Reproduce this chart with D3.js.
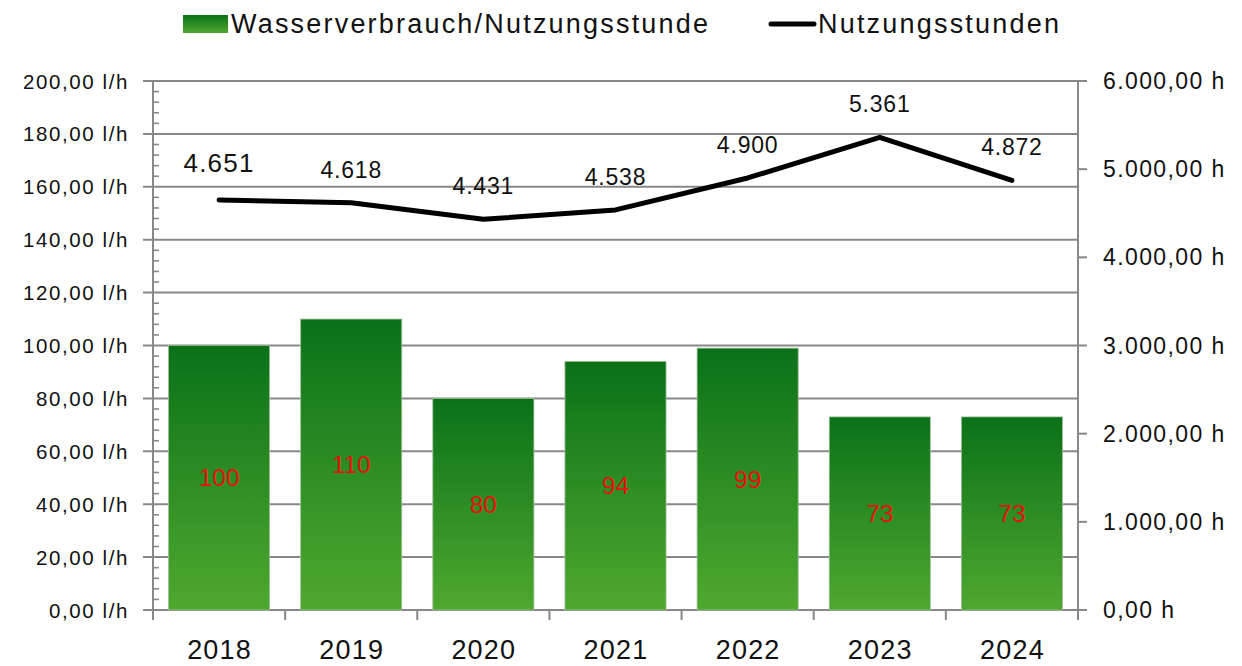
<!DOCTYPE html>
<html lang="de">
<head>
  <meta charset="UTF-8">
  <title>Wasserverbrauch je Nutzungsstunde</title>
  <style>
    body { margin: 0; background: #fff; overflow: hidden; }
    text { font-family: "Liberation Sans", Arial, sans-serif; fill: #111; }
  </style>
</head>
<body>
  <script src="https://d3js.org/d3.v7.min.js"></script>
  <script>
    // Daten
    const years = ["2018", "2019", "2020", "2021", "2022", "2023", "2024"];
    const waterPerHour = [100, 110, 80, 94, 99, 73, 73];
    const usageHours = [4651, 4618, 4431, 4538, 4900, 5361, 4872];
    const leftTicks = [0, 20, 40, 60, 80, 100, 120, 140, 160, 180, 200];
    const rightTicks = [0, 1000, 2000, 3000, 4000, 5000, 6000];

    const width = 1242, height = 666;
    const m = { left: 153, right: 1078, top: 81, bottom: 610 };

    const svg = d3.select("body").append("svg").attr("width", width).attr("height", height);

    const x = d3.scaleBand().domain(years).range([m.left, m.right]).paddingInner(0.235).paddingOuter(0.1175);
    const xEdge = d3.scaleLinear().domain([0, years.length]).range([m.left, m.right]);
    const yL = d3.scaleLinear().domain([0, 200]).range([m.bottom, m.top]);
    const yR = d3.scaleLinear().domain([0, 6000]).range([m.bottom, m.top]);

    const de = n => n.toFixed(2).replace(".", ",").replace(/\B(?=(\d{3})+(?!\d))/g, ".");
    const deInt = n => String(n).replace(/\B(?=(\d{3})+(?!\d))/g, ".");

    const defs = svg.append("defs");
    ["barGrad", "legGrad"].forEach(id => {
      const g = defs.append("linearGradient").attr("id", id)
        .attr("x1", 0).attr("y1", 0).attr("x2", 0).attr("y2", 1);
      g.append("stop").attr("offset", "0%").attr("stop-color", "#0b7119");
      g.append("stop").attr("offset", "100%").attr("stop-color", "#4fa82f");
    });

    // Gitterlinien
    svg.append("g").selectAll("line").data(leftTicks).join("line")
      .attr("x1", m.left - 10).attr("x2", m.right)
      .attr("y1", d => yL(d)).attr("y2", d => yL(d))
      .attr("stroke", "#888").attr("stroke-width", 2);

    // Balken
    svg.append("g").selectAll("rect").data(waterPerHour).join("rect")
      .attr("x", (d, i) => x(years[i]))
      .attr("y", d => yL(d))
      .attr("width", x.bandwidth())
      .attr("height", d => yL(0) - yL(d))
      .attr("fill", "url(#barGrad)")
      .attr("stroke", "#9dbf98").attr("stroke-width", 0.8);

    svg.append("g").selectAll("text").data(waterPerHour).join("text")
      .attr("x", (d, i) => x(years[i]) + x.bandwidth() / 2)
      .attr("y", d => (yL(0) + yL(d)) / 2)
      .attr("text-anchor", "middle").attr("dominant-baseline", "central")
      .attr("font-size", 24.5).style("fill", "#e8120c")
      .text(d => d);

    // Linke Achse
    const axisCol = "#888";
    svg.append("line").attr("x1", m.left).attr("x2", m.left).attr("y1", m.top).attr("y2", m.bottom + 10)
      .attr("stroke", axisCol).attr("stroke-width", 2);
    const minor = d3.range(0, 200, 4).filter(v => v % 20 !== 0);
    svg.append("g").selectAll("line").data(minor).join("line")
      .attr("x1", m.left).attr("x2", m.left + 6)
      .attr("y1", d => yL(d)).attr("y2", d => yL(d))
      .attr("stroke", axisCol).attr("stroke-width", 1.6);
    svg.append("g").selectAll("text").data(leftTicks).join("text")
      .attr("x", 129).attr("y", d => yL(d))
      .attr("text-anchor", "end").attr("dominant-baseline", "central")
      .attr("font-family", "'DejaVu Sans', sans-serif")
      .attr("font-size", 20.5).attr("letter-spacing", 1.6)
      .text(d => de(d) + " l/h");

    // Rechte Achse
    svg.append("line").attr("x1", m.right).attr("x2", m.right).attr("y1", m.top).attr("y2", m.bottom + 10)
      .attr("stroke", axisCol).attr("stroke-width", 2);
    svg.append("g").selectAll("line").data(rightTicks).join("line")
      .attr("x1", m.right).attr("x2", m.right + 9)
      .attr("y1", d => yR(d)).attr("y2", d => yR(d))
      .attr("stroke", axisCol).attr("stroke-width", 2);
    svg.append("g").selectAll("text").data(rightTicks).join("text")
      .attr("x", 1103).attr("y", d => yR(d))
      .attr("dominant-baseline", "central")
      .attr("font-size", 23).attr("letter-spacing", 1.4)
      .text(d => de(d) + " h");

    // X-Achse
    svg.append("g").selectAll("line").data(d3.range(years.length + 1)).join("line")
      .attr("x1", d => xEdge(d)).attr("x2", d => xEdge(d))
      .attr("y1", m.bottom).attr("y2", m.bottom + 10)
      .attr("stroke", axisCol).attr("stroke-width", 2);
    svg.append("g").selectAll("text").data(years).join("text")
      .attr("x", d => x(d) + x.bandwidth() / 2 + 0.5).attr("y", 650)
      .attr("text-anchor", "middle").attr("dominant-baseline", "central")
      .attr("font-size", 27).attr("letter-spacing", 1.2)
      .text(d => d);

    // Linie Nutzungsstunden
    const line = d3.line().x((d, i) => x(years[i]) + x.bandwidth() / 2).y(d => yR(d));
    svg.append("path").datum(usageHours)
      .attr("d", line).attr("fill", "none")
      .attr("stroke", "#000").attr("stroke-width", 5)
      .attr("stroke-linecap", "round").attr("stroke-linejoin", "round");

    svg.append("g").selectAll("text").data(usageHours).join("text")
      .attr("x", (d, i) => x(years[i]) + x.bandwidth() / 2)
      .attr("y", (d, i) => yR(d) - (i === 0 ? 37 : 33))
      .attr("text-anchor", "middle").attr("dominant-baseline", "central")
      .attr("font-size", (d, i) => i === 0 ? 26 : 23)
      .attr("letter-spacing", (d, i) => i === 0 ? 1.2 : 0.8)
      .text(d => deInt(d));

    // Legende
    svg.append("rect").attr("x", 183).attr("y", 15).attr("width", 45).attr("height", 18)
      .attr("fill", "url(#legGrad)");
    svg.append("text").attr("x", 231).attr("y", 24).attr("dominant-baseline", "central")
      .attr("font-size", 27).attr("letter-spacing", 2.2).text("Wasserverbrauch/Nutzungsstunde");
    svg.append("line").attr("x1", 771).attr("x2", 814).attr("y1", 24).attr("y2", 24)
      .attr("stroke", "#000").attr("stroke-width", 5).attr("stroke-linecap", "round");
    svg.append("text").attr("x", 818).attr("y", 24).attr("dominant-baseline", "central")
      .attr("font-size", 27).attr("letter-spacing", 2.2).text("Nutzungsstunden");
  </script>
</body>
</html>
